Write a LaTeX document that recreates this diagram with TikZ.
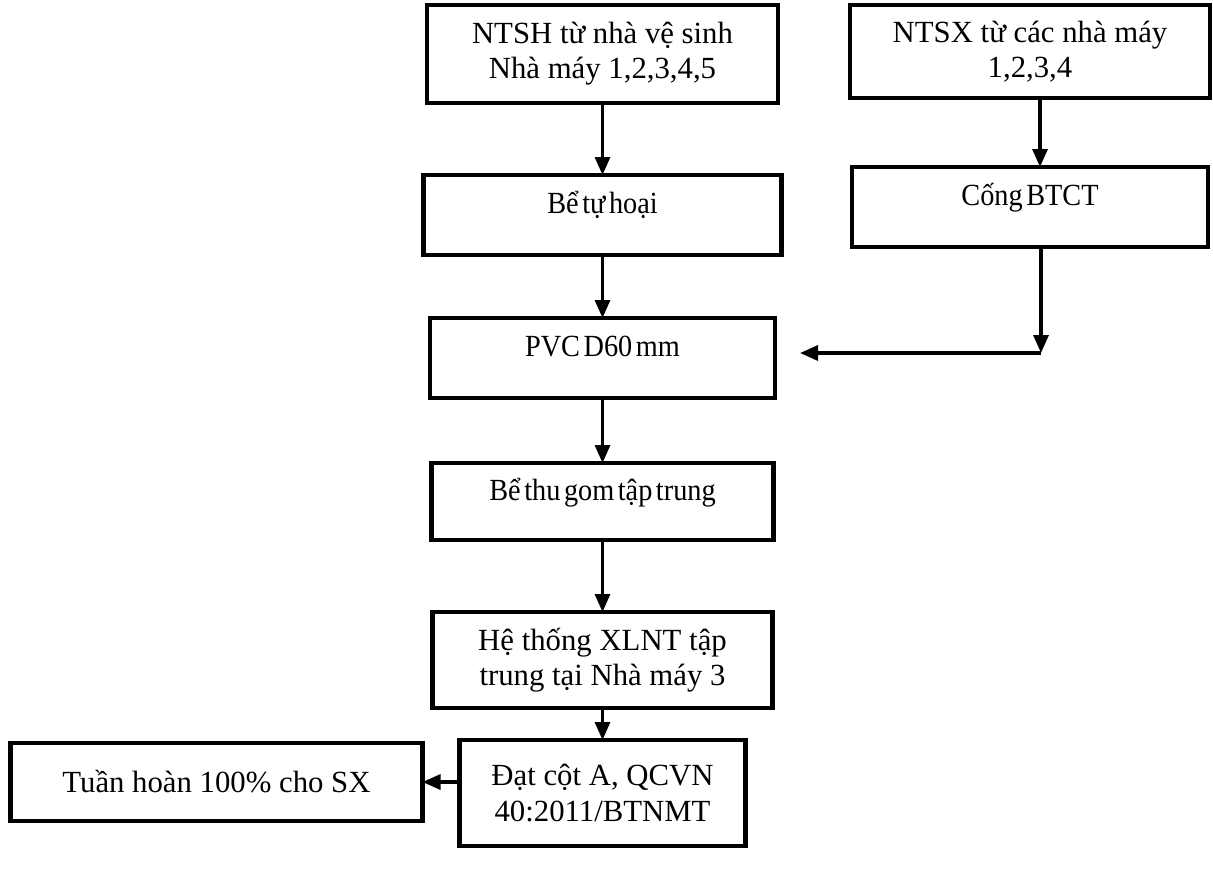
\documentclass[tikz,border=0pt]{standalone}
\usepackage{fontspec}
\setmainfont{Liberation Serif}
\newfontfamily\tightfont[FakeStretch=0.92,WordSpace=0.5]{Liberation Serif}
\usetikzlibrary{arrows.meta, positioning, calc}

\begin{document}
\begin{tikzpicture}[
  font=\fontsize{17.5}{20}\selectfont,
  procbox/.style={
    rectangle,
    draw=black,
    line width=2.6pt,
    outer sep=0pt,
    align=center,
    inner sep=2pt,
    minimum width=#1},
  procbox/.default=7cm,
  topbox/.style={
    procbox=#1,
    font=\fontsize{17.5}{20}\selectfont\tightfont,
    minimum height=1.6cm,
    text height=0.45cm,
    text depth=0.5cm},
  topbox/.default=7cm,
  flow/.style={
    draw=black,
    -{Triangle[length=0.36cm,width=0.3cm]},
    line width=1.8pt},
]

\useasboundingbox (0,0) rectangle (24.26,-17.64);

% main column
\node[procbox=7.02cm, minimum height=1.96cm] (ntsh) at (12.05,-1.08)
  {NTSH từ nhà vệ sinh\\Nhà máy 1,2,3,4,5};

\node[topbox=7.16cm, below=1.44cm of ntsh] (tuhoai)
  {Bể tự hoại};

\node[topbox=6.9cm, below=1.26cm of tuhoai] (pvc)
  {PVC D60 mm};

\node[topbox=6.84cm, minimum height=1.54cm, below=1.3cm of pvc] (thugom)
  {Bể thu gom tập trung};

\node[procbox=6.8cm, minimum height=1.92cm, below=1.44cm of thugom] (hethong)
  {Hệ thống XLNT tập\\trung tại Nhà máy 3};

\node[procbox=5.72cm, minimum height=2.12cm, below=0.64cm of hethong] (dat)
  {Đạt cột A, QCVN\\40:2011/BTNMT};

\node[procbox=8.24cm, minimum height=1.56cm, left=0.74cm of dat, yshift=0.22cm] (tuan)
  {Tuần hoàn 100\% cho SX};

% right column
\node[procbox=7.2cm, minimum height=1.86cm] (ntsx) at (20.6,-1.03)
  {NTSX từ các nhà máy\\1,2,3,4};

\node[topbox=7.12cm, below=1.38cm of ntsx] (cong)
  {Cống BTCT};

\coordinate (joint) at ($(cong.south)+(0.22,-2.12)$);
\coordinate (pvcin) at ($(pvc.east |- joint)+(0.5,0)$);

\draw[flow] (ntsh.south) -- (ntsh.south |- tuhoai.north);
\draw[flow] (tuhoai.south) -- (tuhoai.south |- pvc.north);
\draw[flow] (pvc.south) -- (pvc.south |- thugom.north);
\draw[flow] (thugom.south) -- (thugom.south |- hethong.north);
\draw[flow] (hethong.south) -- (hethong.south |- dat.north);
\draw[flow] (dat.west |- tuan.east) -- (tuan.east);

\draw[flow] ([xshift=0.2cm]ntsx.south) -- ([xshift=0.2cm]ntsx.south |- cong.north);
\draw[flow] (cong.south -| joint) -- (joint);
\draw[flow] (joint) -- (pvcin);

\end{tikzpicture}
\end{document}
